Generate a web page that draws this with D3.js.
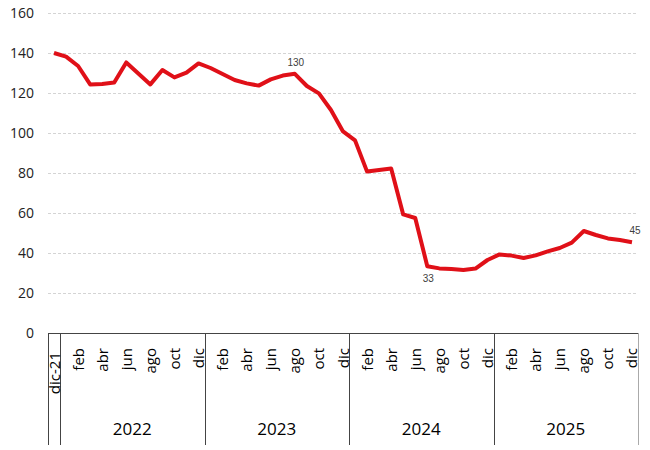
<!DOCTYPE html>
<html>
<head>
<meta charset="utf-8">
<script src="https://cdn.jsdelivr.net/npm/d3@7"></script>
<style>
  body { margin: 0; background: #fff; }
  svg { display: block; font-family: "Open Sans", "Noto Sans", sans-serif; }
</style>
</head>
<body>
<div id="chart"></div>
<script>
// month categories, dic-21 .. dic-25
const months = ['dic-21',
  'ene','feb','mar','abr','may','jun','jul','ago','sep','oct','nov','dic',
  'ene','feb','mar','abr','may','jun','jul','ago','sep','oct','nov','dic',
  'ene','feb','mar','abr','may','jun','jul','ago','sep','oct','nov','dic',
  'ene','feb','mar','abr','may','jun','jul','ago','sep','oct','nov','dic'];

const values = [140, 138.2, 133.5, 124.3, 124.5, 125.2, 135.3, 129.8, 124.3, 131.5, 127.8, 130.2,
  134.8, 132.5, 129.5, 126.5, 124.8, 123.7, 126.8, 128.7, 129.6, 123.5, 119.8, 111.5,
  100.8, 96.3, 80.7, 81.5, 82.3, 59.3, 57.5, 33.4, 32.3, 32, 31.5, 32.2,
  36.5, 39.3, 38.7, 37.5, 38.8, 40.8, 42.5, 45.2, 51, 49, 47.3, 46.5, 45.4];

const years = ['2022', '2023', '2024', '2025'];
const yTicks = [0, 20, 40, 60, 80, 100, 120, 140, 160];
// points that carry a value label, and where it goes
const labelIdx = [20, 31, 48];
const labelPos = ['above', 'below', 'above'];

const width = 650, height = 450;
const margin = { top: 13, right: 12, bottom: 117, left: 48 };
const x0 = margin.left, x1 = width - margin.right;
const yBase = height - margin.bottom, yBottom = 445;

const svg = d3.select('#chart').append('svg')
  .attr('width', width)
  .attr('height', height);

const x = d3.scaleBand()
  .domain(d3.range(months.length))
  .range([x0, x1])
  .padding(0);

const y = d3.scaleLinear()
  .domain([0, 160])
  .range([yBase, margin.top]);

const cx = i => x(i) + x.bandwidth() / 2;

// gridlines
svg.append('g')
  .selectAll('line')
  .data(yTicks.filter(d => d > 0))
  .enter().append('line')
  .attr('x1', x0).attr('x2', x1)
  .attr('y1', d => Math.round(y(d)) + 0.5).attr('y2', d => Math.round(y(d)) + 0.5)
  .attr('stroke', '#d4d4d4')
  .attr('stroke-dasharray', '3,2');

// y axis labels
const yAxis = svg.append('g')
  .attr('transform', 'translate(' + x0 + ',0)')
  .call(d3.axisLeft(y).tickValues(yTicks).tickSize(0).tickPadding(14));
yAxis.select('.domain').remove();
yAxis.selectAll('text')
  .attr('font-size', 14)
  .attr('fill', '#222')
  .attr('font-family', '"Open Sans", sans-serif');

// x axis line
svg.append('line')
  .attr('x1', x0).attr('x2', x1)
  .attr('y1', yBase + 0.5).attr('y2', yBase + 0.5)
  .attr('stroke', '#444');

// group dividers: left edge, after dic-21, after each dic
const dividers = [0, 1, 13, 25, 37];
svg.append('g')
  .selectAll('line')
  .data(dividers)
  .enter().append('line')
  .attr('x1', d => Math.round(x(d)) + 0.5).attr('x2', d => Math.round(x(d)) + 0.5)
  .attr('y1', yBase).attr('y2', yBottom)
  .attr('stroke', '#444');
svg.append('line')
  .attr('x1', x1 + 0.5).attr('x2', x1 + 0.5)
  .attr('y1', yBase).attr('y2', yBottom)
  .attr('stroke', '#aaa');

// month tick labels, every second month
svg.append('g')
  .selectAll('text')
  .data(months.map((m, i) => ({ m, i })).filter(d => d.i % 2 === 0))
  .enter().append('text')
  .attr('transform', d => 'translate(' + (cx(d.i) + 5.5) + ',' + (d.i === 0 ? 352 : 348) + ') rotate(-90)')
  .attr('text-anchor', 'end')
  .attr('font-size', 15)
  .attr('fill', '#000')
  .text(d => d.m);

// year labels
svg.append('g')
  .selectAll('text')
  .data(years)
  .enter().append('text')
  .attr('x', (d, k) => (x(1 + k * 12) + x(12 + k * 12) + x.bandwidth()) / 2)
  .attr('y', 435)
  .attr('text-anchor', 'middle')
  .attr('font-size', 17)
  .attr('fill', '#000')
  .text(d => d);

// the line
const line = d3.line()
  .x((d, i) => cx(i))
  .y(d => y(d));

svg.append('path')
  .datum(values)
  .attr('d', line)
  .attr('fill', 'none')
  .attr('stroke', '#e01018')
  .attr('stroke-width', 4)
  .attr('stroke-linejoin', 'round');

// value labels
svg.append('g')
  .selectAll('text')
  .data(labelIdx)
  .enter().append('text')
  .attr('x', d => cx(d) + (d === 48 ? 3 : 1))
  .attr('y', (d, k) => labelPos[k] === 'above' ? y(values[d]) - 8 : y(values[d]) + 16)
  .attr('text-anchor', 'middle')
  .attr('font-size', 10)
  .attr('font-family', '"Liberation Sans", Arial, sans-serif')
  .attr('fill', '#404040')
  .text(d => Math.round(values[d]));
</script>
</body>
</html>
